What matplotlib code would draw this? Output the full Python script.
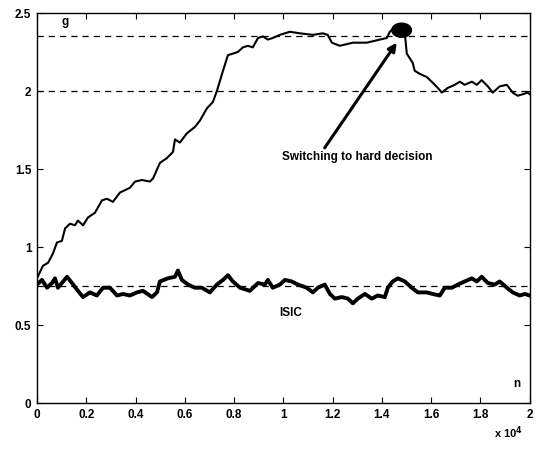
import numpy as np
import matplotlib.pyplot as plt
from matplotlib.patches import Ellipse

plt.rcParams['font.family'] = ['Liberation Sans', 'DejaVu Sans']
plt.rcParams['font.weight'] = 'bold'

# adaptive gain g (soft decision, then hard decision after n ~ 1.5e4)
n_g = [0, 240, 450, 650, 810, 1010, 1140, 1340, 1540, 1660, 1870, 2070, 2350, 2640, 2840,
       3080, 3370, 3770, 3980, 4260, 4580, 4710, 4990, 5270, 5520, 5600, 5800, 6090, 6410,
       6610, 6900, 7140, 7300, 7550, 7750, 7950, 8150, 8360, 8560, 8760, 8970, 9170, 9370,
       9570, 9860, 10260, 10670, 11200, 11600, 11800, 11970, 12290, 12820, 13390, 13920,
       14200, 14320, 14520, 14730, 14930, 15010, 15250, 15330, 15540, 15820, 16020, 16270,
       16430, 16670, 16960, 17160, 17360, 17650, 17850, 18050, 18300, 18500, 18780, 19070,
       19310, 19510, 19720, 19920, 20000]
g = [0.80, 0.88, 0.90, 0.96, 1.03, 1.04, 1.12, 1.15, 1.14, 1.17, 1.14, 1.19, 1.22, 1.30, 1.31,
     1.29, 1.35, 1.38, 1.42, 1.43, 1.42, 1.44, 1.54, 1.57, 1.61, 1.69, 1.67, 1.73, 1.77,
     1.81, 1.89, 1.93, 2.00, 2.13, 2.23, 2.24, 2.25, 2.28, 2.29, 2.28, 2.34, 2.35, 2.33,
     2.34, 2.36, 2.38, 2.37, 2.36, 2.37, 2.36, 2.31, 2.29, 2.31, 2.31, 2.33,
     2.34, 2.38, 2.41, 2.42, 2.37, 2.24, 2.18, 2.13, 2.11, 2.09, 2.06, 2.02,
     1.99, 2.02, 2.04, 2.06, 2.04, 2.06, 2.04, 2.07, 2.03, 1.99, 2.03, 2.04,
     1.99, 1.97, 1.98, 1.99, 1.98]

# ISIC curve
n_isic = [0, 200, 410, 610, 730, 850, 1010, 1220, 1420, 1660, 1870, 2150, 2430, 2680, 2960,
          3250, 3490, 3770, 4060, 4300, 4670, 4870, 4990, 5310, 5600, 5720, 5880, 6130, 6410,
          6690, 7020, 7300, 7550, 7750, 7950, 8240, 8640, 8970, 9250, 9370, 9570, 9860,
          10060, 10340, 10590, 10950, 11200, 11400, 11680, 11890, 12090, 12370, 12620,
          12820, 13020, 13310, 13590, 13830, 14120, 14240, 14440, 14650, 14930, 15210,
          15460, 15820, 16060, 16350, 16550, 16840, 17080, 17360, 17650, 17850, 18050,
          18300, 18580, 18780, 19070, 19310, 19590, 19800, 20000]
isic = [0.76, 0.79, 0.74, 0.77, 0.80, 0.74, 0.77, 0.81, 0.77, 0.72, 0.68, 0.71, 0.69, 0.74, 0.74,
        0.69, 0.70, 0.69, 0.71, 0.72, 0.68, 0.71, 0.78, 0.80, 0.81, 0.85, 0.79, 0.76, 0.74,
        0.74, 0.71, 0.76, 0.79, 0.82, 0.78, 0.74, 0.72, 0.77, 0.76, 0.79, 0.74, 0.76,
        0.79, 0.78, 0.76, 0.74, 0.71, 0.74, 0.76, 0.70, 0.67, 0.68, 0.67,
        0.64, 0.67, 0.70, 0.67, 0.69, 0.68, 0.74, 0.78, 0.80, 0.78, 0.74,
        0.71, 0.71, 0.70, 0.69, 0.74, 0.74, 0.76, 0.78, 0.80, 0.78, 0.81,
        0.77, 0.76, 0.78, 0.74, 0.71, 0.69, 0.70, 0.69]

ref_levels = [2.35, 2.0, 0.75]
x_ticks = np.arange(0, 20001, 2000)
y_ticks = [0, 0.5, 1, 1.5, 2, 2.5]

fig = plt.figure(figsize=(5.4, 4.49), dpi=100)
ax = fig.add_axes([0.0685, 0.102, 0.9125, 0.869])

for lev in ref_levels:
    ax.axhline(lev, color='k', linestyle=(0, (5, 4)), linewidth=0.9)

ax.plot(n_g, g, color='k', linewidth=1.5)
ax.plot(n_isic, isic, color='k', linewidth=2.8)

# switching point blob
ax.add_patch(Ellipse((14800, 2.39), 800, 0.09, color='k'))

ax.annotate('Switching to hard decision', xy=(14600, 2.31), xytext=(9950, 1.58),
            fontsize=8.5, fontweight='bold', va='center',
            arrowprops=dict(arrowstyle='-|>', color='k', lw=2.2, mutation_scale=12,
                            shrinkA=0, shrinkB=0, relpos=(0.27, 1.0)))

ax.text(1000, 2.44, 'g', fontsize=8.5, fontweight='bold', va='center')
ax.text(9850, 0.58, 'ISIC', fontsize=8.5, fontweight='bold', va='center')
ax.text(19350, 0.12, 'n', fontsize=8.5, fontweight='bold', va='center')

ax.set_xlim(0, 20000)
ax.set_ylim(0, 2.5)
ax.set_xticks(x_ticks)
ax.set_xticklabels(['0' if t == 0 else ('%g' % (t / 1e4)) for t in x_ticks])
ax.set_yticks(y_ticks)
ax.set_yticklabels(['0', '0.5', '1', '1.5', '2', '2.5'])
ax.tick_params(direction='in', top=True, right=True, length=4, labelsize=8.5, pad=4)
for lab in ax.get_xticklabels() + ax.get_yticklabels():
    lab.set_fontweight('bold')
for sp in ax.spines.values():
    sp.set_linewidth(1.0)

fig.text(0.915, 0.025, r'x 10$^4$', fontsize=8, fontweight='bold')

plt.savefig('out.png', dpi=100)
